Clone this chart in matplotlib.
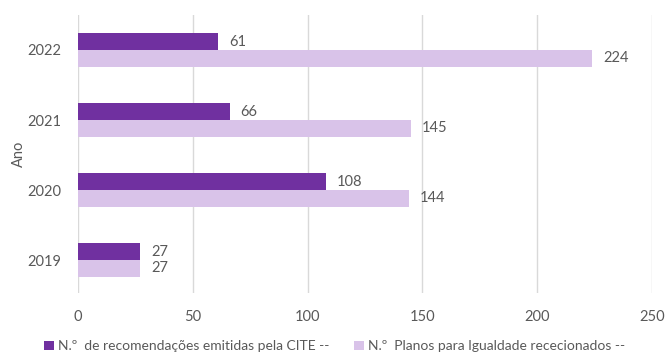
import matplotlib.pyplot as plt
import numpy as np

anos = ['2019', '2020', '2021', '2022']
recomendacoes = [27, 108, 66, 61]
planos = [27, 144, 145, 224]
xticks = [0, 50, 100, 150, 200, 250]

dark = '#7030A0'
light = '#D9C3E9'
gray = '#595959'

plt.rcParams['font.family'] = ['Lato', 'DejaVu Sans']

fig = plt.figure(figsize=(6.65, 3.56), dpi=100)
ax = fig.add_axes([0.1173, 0.177, 0.8632, 0.781])

y = np.arange(len(anos))
h = 0.24
b1 = ax.barh(y + h / 2, recomendacoes, height=h, color=dark,
             label='N.º  de recomendações emitidas pela CITE --')
b2 = ax.barh(y - h / 2, planos, height=h, color=light,
             label='N.º  Planos para Igualdade rececionados --')

for bars in (b1, b2):
    ax.bar_label(bars, padding=8, fontsize=10.5, color=gray)

ax.set_xlim(0, 250)
ax.set_ylim(-0.47, 3.5)
ax.set_xticks(xticks)
ax.set_yticks(y)
ax.set_yticklabels(anos)
ax.tick_params(axis='both', length=0, labelsize=10.5, labelcolor=gray)
ax.tick_params(axis='x', pad=12)
ax.tick_params(axis='y', pad=12)
ax.grid(axis='x', color='#D9D9D9', linewidth=1)
ax.set_axisbelow(True)
for s in ax.spines.values():
    s.set_visible(False)

ax.set_ylabel('Ano', fontsize=10.5, color=gray, labelpad=1)

fig.legend(loc='lower center', bbox_to_anchor=(0.503, -0.025), ncol=2, frameon=False,
           fontsize=10, labelcolor=gray, handlelength=0.7, handleheight=0.7,
           handletextpad=0.3, columnspacing=1.8)

fig.savefig('out.png', dpi=100)
